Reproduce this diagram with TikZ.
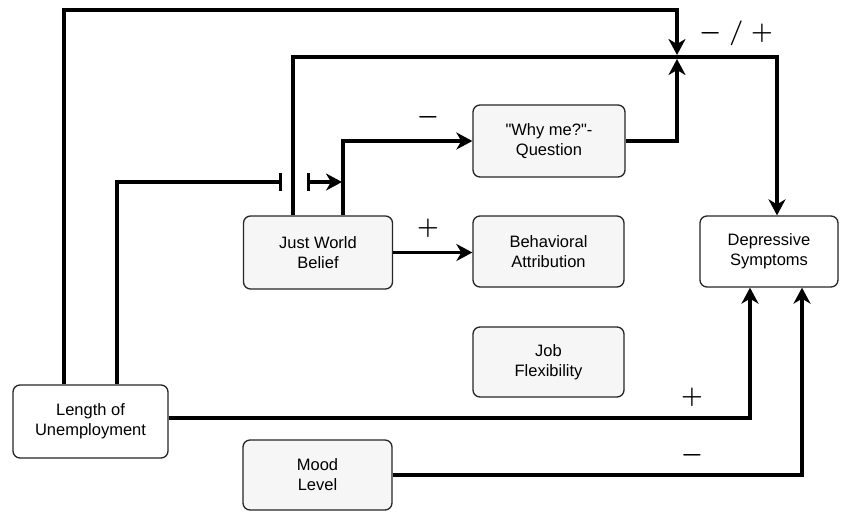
\documentclass[tikz,border=0pt]{standalone}
\usepackage{fontspec}
\setmainfont{Liberation Sans}
\usetikzlibrary{arrows.meta}
\begin{document}
\begin{tikzpicture}[x=1pt,y=-1pt,
  box/.style={draw=black!85, line width=1.3pt, rounded corners=7pt, align=center,
    font=\fontsize{16.5}{20}\selectfont, inner sep=2pt},
  shaded/.style={box, fill=gray!7},
  plain/.style={box, fill=white},
  conn/.style={line width=3.4pt},
  arr/.style={conn, -{Stealth[length=16pt,width=17pt,inset=5pt]}},
  sign/.style={font=\fontsize{28}{28}\selectfont\boldmath, inner sep=0pt}
]
\useasboundingbox (0,0) rectangle (843,512);
\fill[white] (0,0) rectangle (843,512);

\node[plain, minimum width=155pt, minimum height=73pt] (L) at (90.5,421.5) {Length of\\Unemployment};
\node[shaded, minimum width=149pt, minimum height=73pt] (JW) at (318,252.5) {Just World\\Belief};
\node[shaded, minimum width=152pt, minimum height=72pt] (W) at (549,141) {\textquotedbl Why me?\textquotedbl -\\Question};
\node[shaded, minimum width=151pt, minimum height=71pt] (B) at (548.5,251.5) {Behavioral\\Attribution};
\node[shaded, minimum width=151pt, minimum height=70pt] (J) at (548.5,362) {Job\\Flexibility};
\node[shaded, minimum width=149pt, minimum height=70pt] (M) at (317.5,475) {Mood\\Level};
\node[plain, minimum width=138pt, minimum height=71pt] (D) at (769,251.5) {Depressive\\Symptoms};

\coordinate (top) at (677,10);
\coordinate (jtop) at (677,55);
\coordinate (c2) at (777,57);
\coordinate (jbot) at (677,59);
\coordinate (m1) at (282,182);
\coordinate (m2) at (307,182);
\coordinate (m3) at (342,182);

% top loop from Length of Unemployment
\draw[arr] ([xshift=-26.5pt]L.north) |- (top) -- (jtop);
% Just World -> Depressive (main line)
\draw[arr] ([xshift=-25pt]JW.north) |- (c2) -- ([xshift=8pt]D.north);
% Why me -> junction
\draw[arr] (W.east) -| (jbot);
% Just World -> Why me
\draw[arr] ([xshift=25pt]JW.north) |- (W.west);
% Just World -> Behavioral
\draw[arr] (JW.east) -- (JW.east -| B.west);
% moderation by Length
\draw[conn, -{Bar[width=18pt]}] ([xshift=26.5pt]L.north) |- (m1);
\draw[conn, {Bar[width=18pt]}-{Stealth[length=16pt,width=17pt,inset=5pt]}] (m2) -- (m3);
% Length -> Depressive
\draw[arr] ([yshift=3.5pt]L.east) -| ([xshift=-19pt]D.south);
% Mood -> Depressive
\draw[arr] (M.east) -| ([xshift=33pt]D.south);

\node[sign] (s1) at (428,117) {$-$};
\node[sign] (s2) at (428,228) {$+$};
\node[sign] (s3) at (692,397) {$+$};
\node[sign] (s4) at (692,455) {$-$};
\node[sign] (s5) at (736,33) {$-\;/\;+$};
\end{tikzpicture}
\end{document}
